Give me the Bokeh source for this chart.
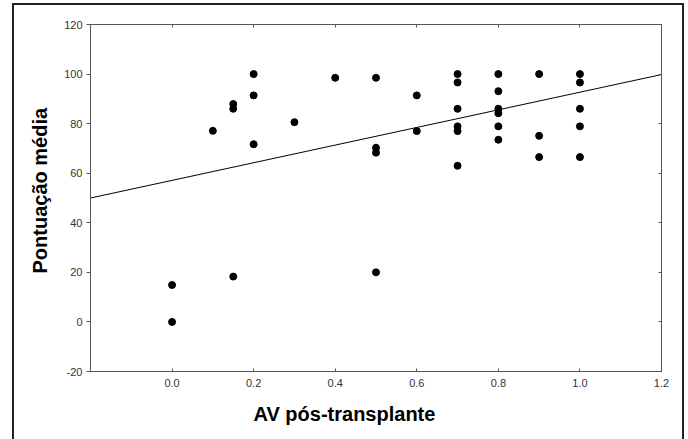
from bokeh.plotting import figure
from bokeh.models import LinearAxis, FixedTicker, Range1d, Title
from bokeh.embed import file_html
from bokeh.resources import INLINE

# data
av_x = [0.0, 0.0, 0.1, 0.15, 0.15, 0.15, 0.2, 0.2, 0.2, 0.3, 0.4,
        0.5, 0.5, 0.5, 0.5, 0.6, 0.6,
        0.7, 0.7, 0.7, 0.7, 0.7, 0.7,
        0.8, 0.8, 0.8, 0.8, 0.8, 0.8,
        0.9, 0.9, 0.9,
        1.0, 1.0, 1.0, 1.0, 1.0]
score_y = [0.0, 14.9, 77.1, 87.9, 86.0, 18.3, 100.0, 91.4, 71.7, 80.6, 98.5,
           98.5, 70.3, 68.3, 20.0, 91.4, 77.0,
           100.0, 96.6, 86.0, 78.9, 77.0, 63.0,
           100.0, 93.1, 86.0, 84.2, 78.9, 73.5,
           100.0, 75.1, 66.5,
           100.0, 96.6, 86.0, 78.9, 66.5]
fit_x = [-0.2, 1.2]
fit_y = [50.0, 99.8]

x_ticks = [0.0, 0.2, 0.4, 0.6, 0.8, 1.0, 1.2]
x_tick_labels = ["0.0", "0.2", "0.4", "0.6", "0.8", "1.0", "1.2"]
y_ticks = [-20, 0, 20, 40, 60, 80, 100, 120]
y_tick_labels = ["-20", "0", "20", "40", "60", "80", "100", "120"]
x_title = "AV  pós-transplante"
y_title = "Pontuação  média"

FONT = "Liberation Sans"
AX = "#555555"
TXT = "#333333"

p = figure(width=672, height=436, output_backend="svg", toolbar_location=None,
           x_range=Range1d(-0.2, 1.2), y_range=Range1d(-20, 120),
           min_border_left=78, min_border_right=23, min_border_top=21, min_border_bottom=68)
p.styles = {"margin-left": "12px", "margin-top": "3px",
            "box-shadow": "inset 2px 2px 0 #222222, inset -2px 0 0 #222222"}
p.grid.visible = False
p.outline_line_color = AX
p.outline_line_width = 1
p.background_fill_color = "white"
p.border_fill_alpha = 0

xa = p.xaxis[0]
xa.ticker = FixedTicker(ticks=x_ticks)
xa.major_label_overrides = dict(zip(x_ticks, x_tick_labels))
xa.major_tick_in = 3
xa.major_tick_out = 0
xa.minor_tick_line_color = None
xa.major_label_standoff = 7

ya = p.yaxis[0]
ya.ticker = FixedTicker(ticks=y_ticks)
ya.major_label_overrides = dict(zip(y_ticks, y_tick_labels))
ya.major_tick_in = 0
ya.major_tick_out = 4
ya.minor_tick_line_color = None
ya.major_label_standoff = 4

for ax in (xa, ya):
    ax.axis_line_color = AX
    ax.major_tick_line_color = AX
    ax.major_label_text_font = FONT
    ax.major_label_text_font_size = "11px"
    ax.major_label_text_color = TXT

xt = Title(text=x_title, align="left", offset=163, text_font=FONT,
           text_font_size="20px", text_font_style="bold", text_color="black",
           standoff=22)
p.add_layout(xt, "below")

yt = Title(text=y_title, align="left", offset=98, text_font=FONT,
           text_font_size="20px", text_font_style="bold", text_color="black",
           standoff=22)
p.add_layout(yt, "left")

top = LinearAxis(ticker=FixedTicker(ticks=x_ticks),
                 major_label_overrides={t: "" for t in x_ticks},
                 major_tick_in=3, major_tick_out=0, minor_tick_line_color=None,
                 axis_line_color=AX, major_tick_line_color=AX)
right = LinearAxis(ticker=FixedTicker(ticks=y_ticks),
                   major_label_overrides={t: "" for t in y_ticks},
                   major_tick_in=3, major_tick_out=0, minor_tick_line_color=None,
                   axis_line_color=AX, major_tick_line_color=AX)
p.add_layout(top, "above")
p.add_layout(right, "right")

p.line(fit_x, fit_y, line_color="black", line_width=1)
p.scatter(av_x, score_y, size=7, fill_color="black", line_color="black")

open("out.html", "w").write(file_html(p, INLINE))
